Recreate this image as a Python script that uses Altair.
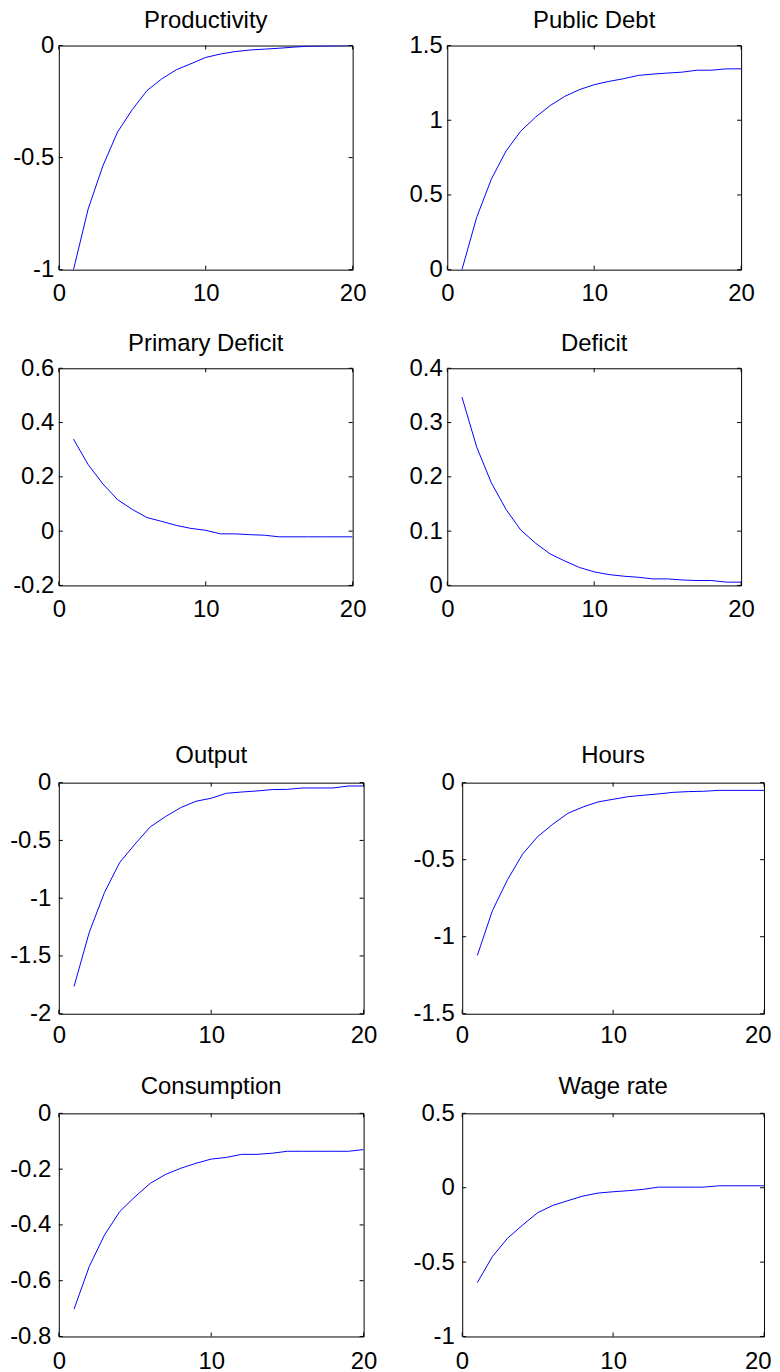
import altair as alt
import pandas as pd

FONT = "Liberation Sans"
FS = 24

periods = list(range(1, 21))
x_ticks = [0, 10, 20]

productivity = [-1.0, -0.729, -0.537, -0.386, -0.286, -0.201, -0.149, -0.108, -0.081, -0.053,
                -0.038, -0.027, -0.020, -0.016, -0.012, -0.007, -0.003, -0.002, -0.001, 0.0]
public_debt = [0.0, 0.35, 0.606, 0.794, 0.927, 1.02, 1.098, 1.16, 1.205, 1.238,
               1.26, 1.278, 1.30, 1.309, 1.316, 1.322, 1.335, 1.335, 1.344, 1.344]
primary_deficit = [0.339, 0.245, 0.174, 0.116, 0.080, 0.050, 0.036, 0.021, 0.010, 0.003,
                   -0.010, -0.010, -0.013, -0.015, -0.021, -0.021, -0.021, -0.021, -0.021, -0.021]
deficit = [0.347, 0.255, 0.189, 0.140, 0.102, 0.078, 0.058, 0.045, 0.033, 0.025,
           0.020, 0.017, 0.015, 0.012, 0.012, 0.010, 0.009, 0.009, 0.006, 0.006]
output = [-1.764, -1.295, -0.95, -0.69, -0.532, -0.383, -0.294, -0.216, -0.161, -0.135,
          -0.092, -0.081, -0.072, -0.060, -0.058, -0.046, -0.046, -0.046, -0.029, -0.029]
hours = [-1.122, -0.831, -0.63, -0.464, -0.35, -0.27, -0.199, -0.158, -0.125, -0.108,
         -0.091, -0.082, -0.073, -0.063, -0.058, -0.056, -0.05, -0.05, -0.05, -0.05]
consumption = [-0.702, -0.549, -0.436, -0.352, -0.299, -0.251, -0.219, -0.197, -0.179, -0.164,
               -0.158, -0.147, -0.147, -0.143, -0.136, -0.136, -0.136, -0.136, -0.136, -0.130]
wage_rate = [-0.638, -0.463, -0.34, -0.251, -0.168, -0.119, -0.087, -0.056, -0.036, -0.027,
             -0.020, -0.011, 0.004, 0.004, 0.004, 0.004, 0.013, 0.013, 0.013, 0.013]

yt_productivity = [-1, -0.5, 0]
yt_public_debt = [0, 0.5, 1, 1.5]
yt_primary_deficit = [-0.2, 0, 0.2, 0.4, 0.6]
yt_deficit = [0, 0.1, 0.2, 0.3, 0.4]
yt_output = [-2, -1.5, -1, -0.5, 0]
yt_hours = [-1.5, -1, -0.5, 0]
yt_consumption = [-0.8, -0.6, -0.4, -0.2, 0]
yt_wage_rate = [-1, -0.5, 0, 0.5]

TL = 4  # inner tick length


def panel(title, vals, yticks, w, h, ypad, xpad, toff, flush=False):
    df = pd.DataFrame({"t": periods, "v": vals})
    xaxis_kw = dict(values=x_ticks, title=None, ticks=False, tickSize=0,
                    labelPadding=xpad, domain=False, grid=False, labelOverlap=False,
                    labelExpr="datum.value + ''")
    if flush:
        xaxis_kw.update(labelFlush=True, labelFlushOffset=7)
    else:
        xaxis_kw.update(labelFlush=False)
    xaxis = alt.Axis(**xaxis_kw)
    yaxis = alt.Axis(values=yticks, title=None, ticks=False, tickSize=0,
                     labelPadding=ypad, domain=False, grid=False,
                     labelOverlap=False, labelExpr="datum.value + ''")
    xscale = alt.Scale(domain=[0, 20], nice=False, zero=False)
    yscale = alt.Scale(domain=[min(yticks), max(yticks)], nice=False, zero=False)
    xenc = alt.X("t:Q", scale=xscale, axis=xaxis)
    yenc = alt.Y("v:Q", scale=yscale, axis=yaxis)
    line = alt.Chart(df).mark_line(color="#0000ff", strokeWidth=1, clip=True).encode(x=xenc, y=yenc)
    ydf = pd.DataFrame({"v": yticks})
    xdf = pd.DataFrame({"t": x_ticks})
    yl = alt.Chart(ydf).mark_rule(color="black", strokeWidth=1).encode(
        y=yenc, x=alt.value(0), x2=alt.value(TL))
    yr = alt.Chart(ydf).mark_rule(color="black", strokeWidth=1).encode(
        y=yenc, x=alt.value(w - TL), x2=alt.value(w))
    xb = alt.Chart(xdf).mark_rule(color="black", strokeWidth=1).encode(
        x=xenc, y=alt.value(h - TL), y2=alt.value(h))
    xt = alt.Chart(xdf).mark_rule(color="black", strokeWidth=1).encode(
        x=xenc, y=alt.value(0), y2=alt.value(TL))
    return alt.layer(line, yl, yr, xb, xt).properties(
        width=w, height=h,
        title=alt.TitleParams(title, font=FONT, fontSize=FS, fontWeight="normal",
                              color="black", anchor="middle", baseline="bottom",
                              offset=toff))


p1 = panel("Productivity", productivity, yt_productivity, 295, 225, 5, 12, -23)
p2 = panel("Public Debt", public_debt, yt_public_debt, 295, 225, 5, 12, -23)
p3 = panel("Primary Deficit", primary_deficit, yt_primary_deficit, 295, 218, 5, 12, -24)
p4 = panel("Deficit", deficit, yt_deficit, 295, 218, 5, 12, -24)
p5 = panel("Output", output, yt_output, 306, 232, 8, 10, -21)
p6 = panel("Hours", hours, yt_hours, 303, 232, 8, 10, -21, flush=True)
p7 = panel("Consumption", consumption, yt_consumption, 306, 224, 8, 13, -22)
p8 = panel("Wage rate", wage_rate, yt_wage_rate, 303, 224, 8, 13, -22, flush=True)

row1 = alt.hconcat(p1, p2, spacing=42)
row2 = alt.hconcat(p3, p4, spacing=42)
row3 = alt.hconcat(p5, p6, spacing=35)
row4 = alt.hconcat(p7, p8, spacing=35)
top = alt.vconcat(row1, row2, spacing=25)
bottom = alt.vconcat(row3, row4, spacing=26)

chart = alt.vconcat(top, bottom, spacing=121).properties(
    padding={"left": 1, "top": -3, "right": 0, "bottom": 0}
).configure(background="white").configure_view(
    stroke="black", strokeWidth=1
).configure_axis(
    labelFont=FONT, labelFontSize=FS, labelColor="black"
)

chart.save("out.html", embed_options={"renderer": "svg", "actions": False})
